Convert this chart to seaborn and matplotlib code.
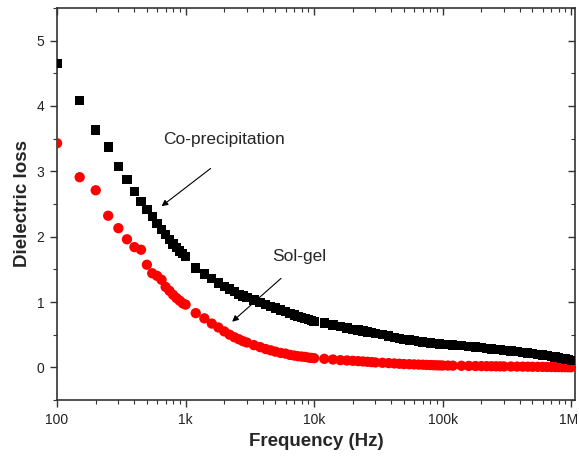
import numpy as np
import pandas as pd
import matplotlib
matplotlib.use("Agg")
import matplotlib.pyplot as plt
import matplotlib.ticker as mticker
import matplotlib.transforms as mtransforms
import seaborn as sns

# Frequencies (Hz)
freq = [100, 150, 200, 250, 300, 350, 400, 450, 500, 550, 600, 650, 700, 750, 800, 850, 900, 950, 1000,
        1200, 1400, 1600, 1800, 2000, 2200, 2400, 2600, 2800, 3000, 3400, 3800, 4200, 4600, 5000, 5500,
        6000, 6500, 7000, 7500, 8000, 8500, 9000, 9500, 10000,
        12000, 14000, 16000, 18000, 20000, 22000, 24000, 26000, 28000, 30000, 34000, 38000, 42000, 46000,
        50000, 55000, 60000, 65000, 70000, 75000, 80000, 85000, 90000, 95000, 100000,
        110000, 120000, 140000, 160000, 180000, 200000, 220000, 240000, 260000, 280000, 300000, 340000, 380000,
        420000, 460000, 500000, 550000, 600000, 650000, 700000, 750000, 800000, 850000, 900000, 950000, 1000000]

# Dielectric loss, co-precipitation (black squares)
coprecip = [4.65, 4.08, 3.63, 3.37, 3.07, 2.87, 2.69, 2.54, 2.42, 2.31, 2.20, 2.11, 2.03, 1.96, 1.89, 1.83, 1.78, 1.74, 1.70,
            1.52, 1.43, 1.36, 1.29, 1.24, 1.20, 1.16, 1.12, 1.09, 1.07, 1.03, 0.99, 0.96, 0.93, 0.91, 0.88,
            0.85, 0.82, 0.80, 0.78, 0.76, 0.745, 0.73, 0.715, 0.70,
            0.68, 0.65, 0.62, 0.60, 0.58, 0.57, 0.555, 0.54, 0.53, 0.52, 0.50, 0.48, 0.46, 0.44,
            0.43, 0.42, 0.41, 0.40, 0.39, 0.38, 0.375, 0.37, 0.36, 0.355, 0.35,
            0.345, 0.34, 0.33, 0.32, 0.31, 0.30, 0.29, 0.28, 0.275, 0.27, 0.26, 0.25, 0.24,
            0.23, 0.22, 0.21, 0.20, 0.19, 0.18, 0.17, 0.16, 0.15, 0.14, 0.13, 0.12, 0.11]

# Dielectric loss, sol-gel (red circles)
solgel = [3.43, 2.91, 2.71, 2.32, 2.13, 1.96, 1.84, 1.80, 1.57, 1.44, 1.40, 1.34, 1.23, 1.17, 1.11, 1.06, 1.02, 0.98, 0.96,
          0.83, 0.75, 0.67, 0.61, 0.55, 0.50, 0.46, 0.43, 0.40, 0.38, 0.34, 0.31, 0.28, 0.26, 0.24, 0.22,
          0.21, 0.19, 0.18, 0.17, 0.165, 0.16, 0.15, 0.145, 0.14,
          0.13, 0.12, 0.11, 0.105, 0.10, 0.095, 0.09, 0.085, 0.08, 0.075, 0.07, 0.065, 0.06, 0.055,
          0.05, 0.048, 0.045, 0.042, 0.04, 0.037, 0.035, 0.033, 0.031, 0.03, 0.028,
          0.027, 0.026, 0.024, 0.022, 0.02, 0.019, 0.018, 0.017, 0.016, 0.015, 0.014, 0.013, 0.012,
          0.011, 0.01, 0.009, 0.008, 0.007, 0.006, 0.005, 0.004, 0.004, 0.003, 0.003, 0.002, 0.002]

x_ticks = [100, 1000, 10000, 100000, 1000000]
x_tick_labels = ["100", "1k", "10k", "100k", "1M"]
y_ticks = [0, 1, 2, 3, 4, 5]

sns.set_style("ticks")
plt.rcParams['font.family'] = ['Liberation Sans', 'DejaVu Sans']

df_c = pd.DataFrame({"freq": freq, "loss": coprecip})
df_s = pd.DataFrame({"freq": freq, "loss": solgel})

fig = plt.figure(figsize=(5.79, 4.58), dpi=100)
ax = fig.add_axes([0.0985, 0.1266, 0.8945, 0.856])

sns.scatterplot(data=df_s, x="freq", y="loss", marker="o", color="#ff0000", s=55,
                edgecolor="none", linewidth=0, ax=ax, zorder=3)
sns.scatterplot(data=df_c, x="freq", y="loss", marker="s", color="black", s=45,
                edgecolor="none", linewidth=0, ax=ax, zorder=4)

ax.set_xscale("log")
ax.set_xlim(100, 1.07e6)
ax.set_ylim(-0.5, 5.5)
ax.set_xticks(x_ticks)
ax.set_xticklabels(x_tick_labels)
ax.xaxis.set_minor_locator(mticker.LogLocator(base=10, subs=np.arange(2, 10)))
ax.xaxis.set_minor_formatter(mticker.NullFormatter())
ax.set_yticks(y_ticks)
ax.yaxis.set_minor_locator(mticker.MultipleLocator(0.5))

for sp in ax.spines.values():
    sp.set_visible(True)
    sp.set_color("#333333")
    sp.set_linewidth(1.2)

ax.tick_params(axis="both", which="major", direction="out", length=5, width=1.0,
               color="#333333", labelsize=10, labelcolor="#222222", pad=4)
ax.tick_params(axis="both", which="minor", direction="out", length=3, width=0.8, color="#333333")
ax.tick_params(top=True, right=True, which="both")
# top/right ticks point inward
for t in ax.xaxis.get_ticklines(minor=False)[1::2] + ax.xaxis.get_ticklines(minor=True)[1::2]:
    t.set_marker(3)
for t in ax.yaxis.get_ticklines(minor=False)[1::2] + ax.yaxis.get_ticklines(minor=True)[1::2]:
    t.set_marker(0)

# keep the last tick label inside the figure
last = ax.get_xticklabels()[-1]
last.set_transform(last.get_transform() + mtransforms.ScaledTranslation(-3 / 100, 0, fig.dpi_scale_trans))

ax.set_xlabel("Frequency (Hz)", fontsize=13.5, fontweight="bold", labelpad=5)
ax.set_ylabel("Dielectric loss", fontsize=13.5, fontweight="bold", labelpad=4)

ax.annotate("", xy=(625, 2.44), xytext=(1630, 3.07),
            arrowprops=dict(arrowstyle="-|>", color="black", lw=0.8, mutation_scale=9))
ax.text(668, 3.49, "Co-precipitation", fontsize=12.5, va="center", ha="left")
ax.annotate("", xy=(2220, 0.67), xytext=(5740, 1.39),
            arrowprops=dict(arrowstyle="-|>", color="black", lw=0.8, mutation_scale=9))
ax.text(4690, 1.70, "Sol-gel", fontsize=12.5, va="center", ha="left")

fig.savefig("out.png", dpi=100)
